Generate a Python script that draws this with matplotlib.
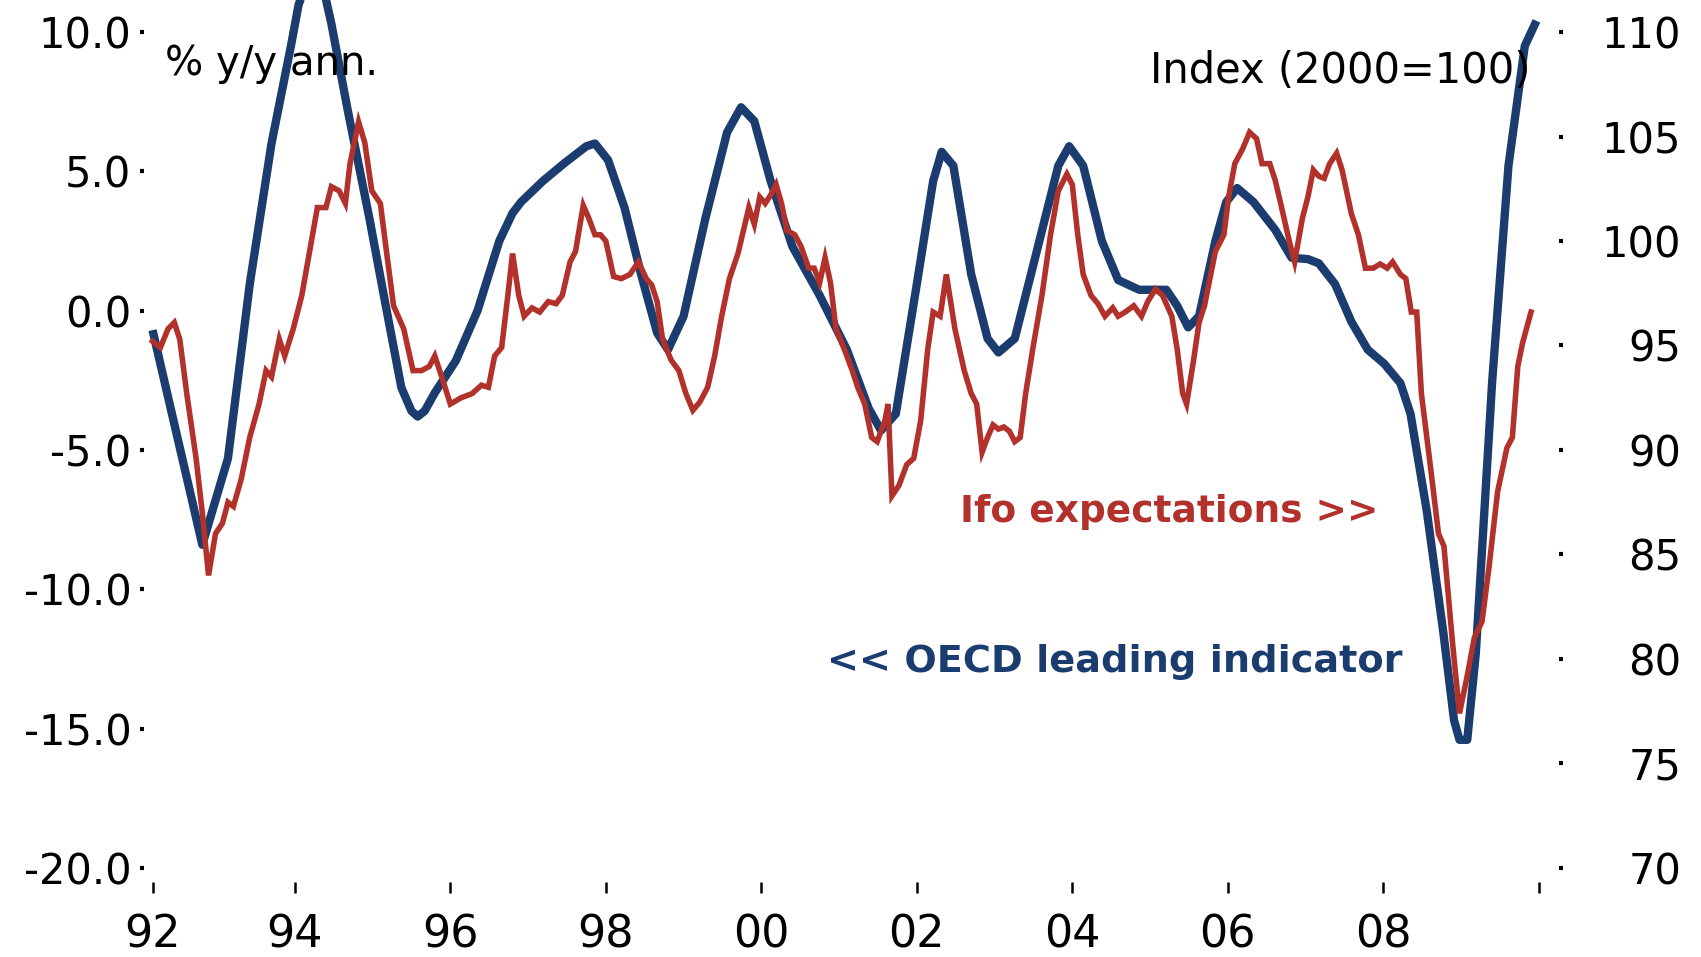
import matplotlib
matplotlib.use("Agg")
import matplotlib.pyplot as plt
import numpy as np

# ---------------- data ----------------
oecd_years = [1992.17, 1992.81, 1993.14, 1993.42, 1993.70, 1993.95, 1994.05, 1994.20, 1994.35,
              1994.47, 1994.68, 1994.96, 1995.17, 1995.37, 1995.50, 1995.58, 1995.67, 1995.80,
              1996.07, 1996.35, 1996.63, 1996.80, 1996.91, 1997.19, 1997.47, 1997.75, 1997.86,
              1998.03, 1998.24, 1998.45, 1998.66, 1998.80, 1999.00, 1999.28, 1999.56, 1999.74,
              1999.91, 2000.12, 2000.40, 2000.75, 2001.10, 2001.38, 2001.54, 2001.73, 2002.00,
              2002.21, 2002.32, 2002.47, 2002.70, 2002.91, 2003.05, 2003.26, 2003.54, 2003.82,
              2003.96, 2004.14, 2004.38, 2004.59, 2004.86, 2005.21, 2005.35, 2005.49, 2005.63,
              2005.84, 2005.98, 2006.12, 2006.33, 2006.61, 2006.82, 2007.03, 2007.17, 2007.38,
              2007.59, 2007.80, 2008.01, 2008.22, 2008.35, 2008.56, 2008.77, 2008.91, 2008.98,
              2009.08, 2009.19, 2009.40, 2009.61, 2009.82, 2009.97]
oecd_values = [-0.7, -8.4, -5.3, 0.95, 6.0, 9.5, 11.0, 12.0, 11.8,
               10.3, 7.2, 3.3, 0.17, -2.76, -3.6, -3.8, -3.6, -2.95,
               -1.8, 0.0, 2.5, 3.5, 3.9, 4.65, 5.3, 5.9, 6.0,
               5.4, 3.7, 1.34, -0.8, -1.4, -0.2, 3.3, 6.4, 7.3,
               6.8, 4.65, 2.3, 0.55, -1.4, -3.5, -4.3, -3.7, 0.95,
               4.65, 5.7, 5.2, 1.3, -1.0, -1.5, -1.0, 2.1, 5.2,
               5.9, 5.2, 2.5, 1.1, 0.75, 0.75, 0.17, -0.6, -0.2,
               2.5, 3.9, 4.4, 3.9, 2.9, 1.9, 1.85, 1.7, 0.95,
               -0.4, -1.4, -1.9, -2.6, -3.7, -7.2, -11.5, -14.7, -15.4,
               -15.4, -12.3, -2.56, 5.2, 9.5, 10.4]

ifo_years = [1992.17, 1992.27, 1992.37, 1992.45, 1992.52, 1992.61, 1992.73, 1992.81, 1992.89,
             1992.98, 1993.07, 1993.14, 1993.21, 1993.31, 1993.42, 1993.54, 1993.63, 1993.70,
             1993.80, 1993.87, 1993.98, 1994.09, 1994.19, 1994.29, 1994.40, 1994.47, 1994.57,
             1994.65, 1994.71, 1994.82, 1994.90, 1994.99, 1995.10, 1995.17, 1995.27, 1995.40,
             1995.52, 1995.63, 1995.73, 1995.80, 1995.89, 1996.00, 1996.14, 1996.28, 1996.40,
             1996.49, 1996.57, 1996.66, 1996.74, 1996.80, 1996.88, 1996.95, 1997.05, 1997.15,
             1997.26, 1997.36, 1997.44, 1997.54, 1997.61, 1997.71, 1997.78, 1997.86, 1997.93,
             1998.00, 1998.10, 1998.20, 1998.31, 1998.42, 1998.52, 1998.59, 1998.66, 1998.73,
             1998.84, 1998.94, 1999.03, 1999.12, 1999.21, 1999.31, 1999.40, 1999.49, 1999.59,
             1999.70, 1999.77, 1999.84, 1999.91, 1999.98, 2000.05, 2000.12, 2000.19, 2000.26,
             2000.33, 2000.43, 2000.51, 2000.61, 2000.68, 2000.75, 2000.82, 2000.89, 2000.96,
             2001.07, 2001.17, 2001.24, 2001.33, 2001.42, 2001.49, 2001.59, 2001.63, 2001.68,
             2001.77, 2001.87, 2001.96, 2002.05, 2002.14, 2002.21, 2002.30, 2002.38, 2002.49,
             2002.61, 2002.70, 2002.77, 2002.84, 2002.91, 2002.98, 2003.05, 2003.12, 2003.19,
             2003.26, 2003.33, 2003.40, 2003.49, 2003.61, 2003.72, 2003.82, 2003.93, 2004.00,
             2004.07, 2004.14, 2004.24, 2004.33, 2004.42, 2004.52, 2004.59, 2004.68, 2004.79,
             2004.89, 2004.97, 2005.07, 2005.16, 2005.28, 2005.35, 2005.42, 2005.47, 2005.56,
             2005.63, 2005.70, 2005.77, 2005.84, 2005.95, 2006.01, 2006.09, 2006.19, 2006.28,
             2006.37, 2006.44, 2006.54, 2006.61, 2006.68, 2006.79, 2006.86, 2006.96, 2007.03,
             2007.10, 2007.17, 2007.24, 2007.31, 2007.40, 2007.47, 2007.59, 2007.68, 2007.77,
             2007.87, 2007.96, 2008.05, 2008.12, 2008.22, 2008.29, 2008.36, 2008.43, 2008.49,
             2008.61, 2008.71, 2008.78, 2008.89, 2008.98, 2009.08, 2009.17, 2009.27, 2009.36,
             2009.47, 2009.59, 2009.66, 2009.73, 2009.79, 2009.90]
ifo_values = [95.2, 94.9, 95.8, 96.1, 95.3, 92.7, 89.6, 87.0, 84.0,
              86.0, 86.5, 87.5, 87.3, 88.6, 90.6, 92.2, 93.8, 93.5,
              95.3, 94.5, 95.8, 97.4, 99.5, 101.6, 101.6, 102.6, 102.4,
              101.8, 103.7, 105.7, 104.7, 102.4, 101.8, 99.75, 96.9, 95.8,
              93.8, 93.8, 94.0, 94.5, 93.5, 92.2, 92.5, 92.7, 93.1,
              93.0, 94.5, 94.9, 97.4, 99.4, 97.4, 96.4, 96.8, 96.6,
              97.1, 97.0, 97.4, 99.0, 99.5, 101.7, 101.1, 100.3, 100.3,
              100.0, 98.3, 98.2, 98.4, 99.0, 98.2, 97.9, 97.1, 95.3,
              94.3, 93.8, 92.7, 91.9, 92.3, 93.0, 94.5, 96.4, 98.2,
              99.4, 100.5, 101.6, 100.8, 102.1, 101.8, 102.2, 102.7, 101.8,
              100.5, 100.3, 99.75, 98.7, 98.7, 98.0, 99.2, 98.0, 95.8,
              94.8, 93.8, 93.0, 92.2, 90.6, 90.4, 91.4, 92.2, 87.8,
              88.3, 89.3, 89.6, 91.4, 94.8, 96.6, 96.4, 98.4, 95.8,
              93.8, 92.7, 92.2, 89.9, 90.6, 91.2, 91.0, 91.1, 90.9,
              90.4, 90.6, 92.7, 94.8, 97.4, 100.3, 102.4, 103.2, 102.7,
              100.3, 98.4, 97.4, 97.0, 96.4, 96.8, 96.4, 96.6, 96.9,
              96.4, 97.1, 97.7, 97.4, 96.4, 94.8, 92.7, 92.2, 94.3,
              96.1, 96.9, 98.2, 99.5, 100.3, 102.1, 103.7, 104.4, 105.2,
              104.9, 103.7, 103.7, 102.9, 101.8, 100.0, 99.0, 101.1, 102.1,
              103.4, 103.1, 103.0, 103.7, 104.2, 103.4, 101.3, 100.3, 98.7,
              98.7, 98.9, 98.7, 99.0, 98.4, 98.2, 96.6, 96.6, 92.7,
              89.1, 86.0, 85.4, 80.8, 77.4, 79.2, 81.0, 81.8, 84.4,
              88.0, 90.1, 90.6, 94.0, 95.1, 96.6]

x_tick_pos = [1992.17, 1994, 1996, 1998, 2000, 2002, 2004, 2006, 2008, 2010]
x_tick_labels = ["92", "94", "96", "98", "00", "02", "04", "06", "08", ""]
left_ticks = [-20, -15, -10, -5, 0, 5, 10]
left_tick_labels = ["-20.0", "-15.0", "-10.0", "-5.0", "0.0", "5.0", "10.0"]
right_ticks = [70, 75, 80, 85, 90, 95, 100, 105, 110]
right_tick_labels = [str(v) for v in right_ticks]

NAVY = "#1a3c6e"
RED = "#b2312a"

plt.rcParams["font.family"] = ["DejaVu Sans"]

W, H = 1701, 957
fig = plt.figure(figsize=(W / 100, H / 100), dpi=100)
fig.patch.set_facecolor("white")

left_px, right_px, top_px, bot_px = 144, 1559, 32, 868
ax = fig.add_axes([left_px / W, 1 - bot_px / H, (right_px - left_px) / W, (bot_px - top_px) / H])
ax2 = ax.twinx()

ax.set_xlim(1992.06, 2010.26)
ax.set_ylim(-20, 10)
ax2.set_ylim(70, 110)

for a in (ax, ax2):
    for s in a.spines.values():
        s.set_visible(False)
    a.patch.set_visible(False)

ax.spines["bottom"].set_position(("outward", 10))

ax.set_xticks(x_tick_pos)
ax.set_xticklabels(x_tick_labels)
ax.tick_params(axis="x", direction="out", length=8, width=1.8, pad=15,
               labelsize=32, colors="black")

ax.set_yticks(left_ticks)
ax.set_yticklabels(left_tick_labels)
ax.tick_params(axis="y", direction="out", length=3, width=3, pad=6,
               labelsize=30, colors="black")

ax2.set_yticks(right_ticks)
ax2.set_yticklabels(right_tick_labels, ha="right")
ax2.tick_params(axis="y", direction="out", length=3, width=3, pad=85,
                labelsize=30, colors="black")

# series
ax.plot(oecd_years, oecd_values, color=NAVY, lw=6.0, solid_capstyle="butt",
        solid_joinstyle="round", clip_on=False, zorder=3)
ax2.plot(ifo_years, ifo_values, color=RED, lw=4.0, solid_joinstyle="miter",
         clip_on=False, zorder=4)
ax2.set_zorder(ax.get_zorder() + 1)

# annotations
def fx(px):
    return px / W

def fy(py):
    return 1 - py / H

fig.text(fx(165), fy(64), "% y/y ann.", fontsize=29, color="black", ha="left", va="center", zorder=1)
fig.text(fx(1150), fy(71), "Index (2000=100)", fontsize=30, color="black", ha="left", va="center", zorder=1)
fig.text(fx(960), fy(512), "Ifo expectations >>", fontsize=27, color=RED, ha="left", va="center",
         fontweight="bold")
fig.text(fx(827), fy(662), "<< OECD leading indicator", fontsize=27.5, color=NAVY, ha="left", va="center",
         fontweight="bold")

fig.savefig("out.png", dpi=100, facecolor="white")
